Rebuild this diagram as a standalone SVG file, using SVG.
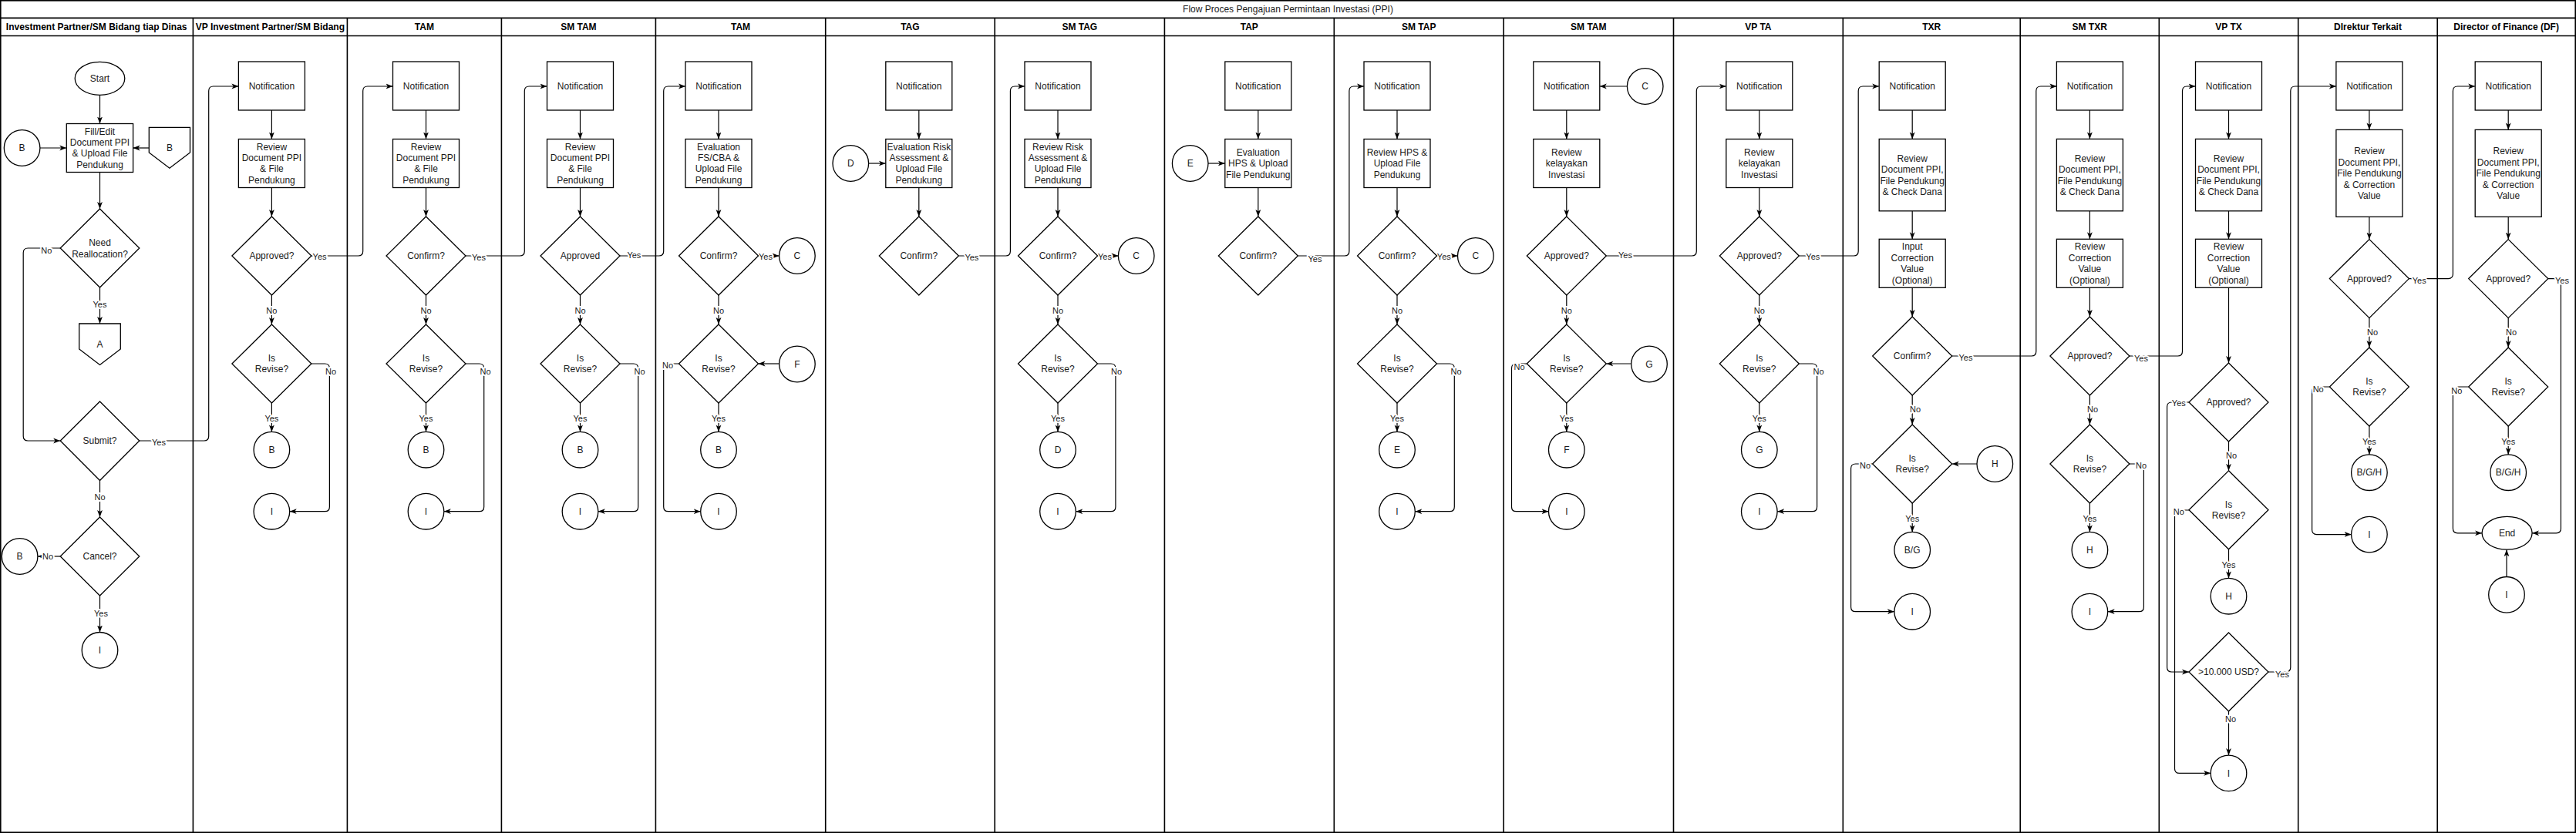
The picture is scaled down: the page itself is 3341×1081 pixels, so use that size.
<svg xmlns="http://www.w3.org/2000/svg" width="3341" height="1081" viewBox="0 0 3341 1081">
<defs>
<style>
.lane{fill:none;stroke:#000;stroke-width:1.6}
.s{fill:#fff;stroke:#000;stroke-width:1.3}
.t{font-family:"Liberation Sans",Arial,Helvetica,sans-serif;font-size:12px;fill:#1a1a1a;text-anchor:middle}
.h{font-weight:bold;fill:#000}
.e{fill:none;stroke:#000;stroke-width:1.2;marker-end:url(#arr)}
.el{font-size:11px;stroke:#fff;stroke-width:4px;paint-order:stroke;stroke-linejoin:round}
</style>
<marker id="arr" viewBox="0 0 10 10" refX="10" refY="5" markerWidth="9" markerHeight="9" markerUnits="userSpaceOnUse" orient="auto">
<path d="M0,1.2 L10,5 L0,8.8 L2.6,5 z" fill="#000"/>
</marker>
</defs>
<rect width="3341" height="1081" fill="#fff"/>
<g id="pool">
<rect class="lane" x="0.8" y="0.8" width="3339.4" height="1079.4"/>
<path class="lane" d="M0 23.4 H3341 M0 46.5 H3341 M250.4 23.4 V1081 M450.4 23.4 V1081 M650.4 23.4 V1081 M850.4 23.4 V1081 M1070.7 23.4 V1081 M1290.2 23.4 V1081 M1510.4 23.4 V1081 M1730.3 23.4 V1081 M1950.2 23.4 V1081 M2170.5 23.4 V1081 M2390.3 23.4 V1081 M2620.2 23.4 V1081 M2800.3 23.4 V1081 M2980.7 23.4 V1081 M3161.2 23.4 V1081"/>
<text class="t" x="1670.5" y="15.9">Flow Proces Pengajuan Permintaan Investasi (PPI)</text>
<text class="t h" x="125.2" y="39.2">Investment Partner/SM Bidang tiap Dinas</text>
<text class="t h" x="350.4" y="39.2">VP Investment Partner/SM Bidang</text>
<text class="t h" x="550.4" y="39.2">TAM</text>
<text class="t h" x="750.4" y="39.2">SM TAM</text>
<text class="t h" x="960.5" y="39.2">TAM</text>
<text class="t h" x="1180.4" y="39.2">TAG</text>
<text class="t h" x="1400.3" y="39.2">SM TAG</text>
<text class="t h" x="1620.3" y="39.2">TAP</text>
<text class="t h" x="1840.2" y="39.2">SM TAP</text>
<text class="t h" x="2060.3" y="39.2">SM TAM</text>
<text class="t h" x="2280.4" y="39.2">VP TA</text>
<text class="t h" x="2505.2" y="39.2">TXR</text>
<text class="t h" x="2710.2" y="39.2">SM TXR</text>
<text class="t h" x="2890.5" y="39.2">VP TX</text>
<text class="t h" x="3071" y="39.2">DIrektur Terkait</text>
<text class="t h" x="3250.6" y="39.2">Director of Finance (DF)</text>
</g>

<g id="connectors">
<!-- lane 0 -->
<path class="e" d="M129.5 123.3 V160.5"/>
<path class="e" d="M51.9 192 H86.3"/>
<path class="e" d="M193.3 192 H172.6"/>
<path class="e" d="M129.5 223.5 V271"/>
<path class="e" d="M129.5 373 V420"/>
<text class="t el" x="129.5" y="399">Yes</text>
<path class="e" d="M78.2 322 H36.2 Q30.2 322 30.2 328 V566 Q30.2 572 36.2 572 H78.2"/>
<text class="t el" x="60.4" y="329">No</text>
<path class="e" d="M180.8 572 H264.7 Q270.7 572 270.7 566 V118 Q270.7 112 276.7 112 H309.4"/>
<text class="t el" x="206" y="578">Yes</text>
<path class="e" d="M129.5 623.5 V671"/>
<text class="t el" x="129.5" y="649">No</text>
<path class="e" d="M78.2 722 H48.9"/>
<text class="t el" x="62" y="726">No</text>
<path class="e" d="M129.5 773 V820.5"/>
<text class="t el" x="131" y="800">Yes</text>
<!-- lane 1 -->
<path class="e" d="M352.4 143 V180.5"/><path class="e" d="M352.4 243.5 V281"/>
<path class="e" d="M352.4 383 V421"/><text class="t el" x="352.4" y="407">No</text>
<path class="e" d="M352.4 523 V560.4"/><text class="t el" x="352.4" y="547.4">Yes</text>
<path class="e" d="M403.9 332 H464.7 Q470.7 332 470.7 326 V118 Q470.7 112 476.7 112 H509.5"/><text class="t el" x="414.6" y="337">Yes</text>
<path class="e" d="M403.9 472 H421.4 Q427.4 472 427.4 478 V657.7 Q427.4 663.7 421.4 663.7 H375.7"/><text class="t el" x="429" y="486">No</text>
<!-- lane 2 -->
<path class="e" d="M552.5 143 V180.5"/><path class="e" d="M552.5 243.5 V281"/>
<path class="e" d="M552.5 383 V421"/><text class="t el" x="552.5" y="407">No</text>
<path class="e" d="M552.5 523 V560.4"/><text class="t el" x="552.5" y="547.4">Yes</text>
<path class="e" d="M604 332 H674.3 Q680.3 332 680.3 326 V118 Q680.3 112 686.3 112 H709.5"/><text class="t el" x="621" y="338">Yes</text>
<path class="e" d="M604 472 H621.7 Q627.7 472 627.7 478 V657.7 Q627.7 663.7 621.7 663.7 H575.8"/><text class="t el" x="629.5" y="486">No</text>
<!-- lane 3 -->
<path class="e" d="M752.5 143 V180.5"/><path class="e" d="M752.5 243.5 V281"/>
<path class="e" d="M752.5 383 V421"/><text class="t el" x="752.5" y="407">No</text>
<path class="e" d="M752.5 523 V560.4"/><text class="t el" x="752.5" y="547.4">Yes</text>
<path class="e" d="M804 332 H854.7 Q860.7 332 860.7 326 V118 Q860.7 112 866.7 112 H889"/><text class="t el" x="822.4" y="335">Yes</text>
<path class="e" d="M804 472 H821.7 Q827.7 472 827.7 478 V657.7 Q827.7 663.7 821.7 663.7 H775.8"/><text class="t el" x="829.5" y="486">No</text>
<!-- lane 4 -->
<path class="e" d="M932 143 V180.5"/><path class="e" d="M932 243.5 V281"/>
<path class="e" d="M932 383 V421"/><text class="t el" x="932" y="407">No</text>
<path class="e" d="M932 523 V560.4"/><text class="t el" x="932" y="547.4">Yes</text>
<path class="e" d="M983.5 332 H1010.6"/><text class="t el" x="993" y="337">Yes</text>
<path class="e" d="M1010.6 472 H983.5"/>
<path class="e" d="M880.5 472 H866.7 Q860.7 472 860.7 478 V657.7 Q860.7 663.7 866.7 663.7 H908.7"/><text class="t el" x="866" y="478">No</text>
<!-- lane 5 -->
<path class="e" d="M1191.8 143 V180.5"/><path class="e" d="M1191.8 243.5 V281"/>
<path class="e" d="M1126.6 212 H1148.8"/>
<path class="e" d="M1243.3 332 H1304.4 Q1310.4 332 1310.4 326 V118 Q1310.4 112 1316.4 112 H1329"/><text class="t el" x="1260.4" y="338">Yes</text>
<!-- lane 6 -->
<path class="e" d="M1372 143 V180.5"/><path class="e" d="M1372 243.5 V281"/>
<path class="e" d="M1372 383 V421"/><text class="t el" x="1372" y="407">No</text>
<path class="e" d="M1372 523 V560.4"/><text class="t el" x="1372" y="547.4">Yes</text>
<path class="e" d="M1423.5 332 H1450.4"/><text class="t el" x="1433" y="337">Yes</text>
<path class="e" d="M1423.5 472 H1440.9 Q1446.9 472 1446.9 478 V657.7 Q1446.9 663.7 1440.9 663.7 H1395.3"/><text class="t el" x="1448" y="486">No</text>
<!-- lane 7 -->
<path class="e" d="M1631.8 143 V180.5"/><path class="e" d="M1631.8 243.5 V281"/>
<path class="e" d="M1567 212 H1588.8"/>
<path class="e" d="M1683.3 332 H1743.9 Q1749.9 332 1749.9 326 V118 Q1749.9 112 1755.9 112 H1769"/><text class="t el" x="1705.5" y="340">Yes</text>
<!-- lane 8 -->
<path class="e" d="M1812 143 V180.5"/><path class="e" d="M1812 243.5 V281"/>
<path class="e" d="M1812 383 V421"/><text class="t el" x="1812" y="407">No</text>
<path class="e" d="M1812 523 V560.4"/><text class="t el" x="1812" y="547.4">Yes</text>
<path class="e" d="M1863.5 332 H1890.5"/><text class="t el" x="1872.8" y="337">Yes</text>
<path class="e" d="M1863.5 472 H1880.3 Q1886.3 472 1886.3 478 V657.7 Q1886.3 663.7 1880.3 663.7 H1835.3"/><text class="t el" x="1888.5" y="486">No</text>
<!-- lane 9 -->
<path class="e" d="M2031.8 143 V180.5"/><path class="e" d="M2031.8 243.5 V281"/>
<path class="e" d="M2110.4 112 H2074.8"/>
<path class="e" d="M2031.8 383 V421"/><text class="t el" x="2031.8" y="407">No</text>
<path class="e" d="M2031.8 523 V560.4"/><text class="t el" x="2031.8" y="547.4">Yes</text>
<path class="e" d="M2083.3 332 H2194.3 Q2200.3 332 2200.3 326 V118 Q2200.3 112 2206.3 112 H2238.8"/><text class="t el" x="2108" y="335">Yes</text>
<path class="e" d="M2115.7 472 H2083.3"/>
<path class="e" d="M1980.3 472 H1966.5 Q1960.5 472 1960.5 478 V657.7 Q1960.5 663.7 1966.5 663.7 H2008.5"/><text class="t el" x="1970.5" y="480">No</text>
<!-- lane 10 -->
<path class="e" d="M2281.8 143 V180.5"/><path class="e" d="M2281.8 243.5 V281"/>
<path class="e" d="M2281.8 383 V421"/><text class="t el" x="2281.8" y="407">No</text>
<path class="e" d="M2281.8 523 V560.4"/><text class="t el" x="2281.8" y="547.4">Yes</text>
<path class="e" d="M2333.3 332 H2404.2 Q2410.2 332 2410.2 326 V118 Q2410.2 112 2416.2 112 H2437.2"/><text class="t el" x="2351.3" y="337">Yes</text>
<path class="e" d="M2333.3 472 H2350.6 Q2356.6 472 2356.6 478 V657.7 Q2356.6 663.7 2350.6 663.7 H2305.1"/><text class="t el" x="2358.5" y="486">No</text>
<!-- lane 11 -->
<path class="e" d="M2480.2 143 V180.4"/><path class="e" d="M2480.2 273.8 V310.3"/><path class="e" d="M2480.2 373.3 V411"/>
<path class="e" d="M2531.7 462 H2634.8 Q2640.8 462 2640.8 456 V118 Q2640.8 112 2646.8 112 H2667.4"/><text class="t el" x="2549.5" y="468">Yes</text>
<path class="e" d="M2480.2 513 V551"/><text class="t el" x="2484" y="535">No</text>
<path class="e" d="M2564 602 H2531.7"/>
<path class="e" d="M2480.2 653 V690.4"/><text class="t el" x="2480.2" y="676.7">Yes</text>
<path class="e" d="M2428.7 602 H2406.6 Q2400.6 602 2400.6 608 V787.7 Q2400.6 793.7 2406.6 793.7 H2456.9"/><text class="t el" x="2419" y="608">No</text>
<!-- lane 12 -->
<path class="e" d="M2710.4 143 V180.4"/><path class="e" d="M2710.4 273.8 V310.3"/><path class="e" d="M2710.4 373.3 V411"/>
<path class="e" d="M2761.9 462 H2824.5 Q2830.5 462 2830.5 456 V118 Q2830.5 112 2836.5 112 H2847.5"/><text class="t el" x="2777" y="469">Yes</text>
<path class="e" d="M2710.4 513 V551"/><text class="t el" x="2714" y="535">No</text>
<path class="e" d="M2710.4 653 V690.4"/><text class="t el" x="2710.4" y="676.7">Yes</text>
<path class="e" d="M2761.9 602 H2774.4 Q2780.4 602 2780.4 608 V787.7 Q2780.4 793.7 2774.4 793.7 H2733.7"/><text class="t el" x="2777" y="608">No</text>
<!-- lane 13 -->
<path class="e" d="M2890.5 143 V180.4"/><path class="e" d="M2890.5 273.8 V310.3"/><path class="e" d="M2890.5 373.3 V471"/>
<path class="e" d="M2839 522 H2816.6 Q2810.6 522 2810.6 528 V866 Q2810.6 872 2816.6 872 H2839"/><text class="t el" x="2825.8" y="527">Yes</text>
<path class="e" d="M2890.5 573 V610.8"/><text class="t el" x="2894" y="595">No</text>
<path class="e" d="M2890.5 712.8 V750.4"/><text class="t el" x="2890.5" y="737">Yes</text>
<path class="e" d="M2839 662 H2826.5 Q2820.5 662 2820.5 668 V997.4 Q2820.5 1003.4 2826.5 1003.4 H2867.2"/><text class="t el" x="2825.8" y="668">No</text>
<path class="e" d="M2942 872 H2964.8 Q2970.8 872 2970.8 866 V118 Q2970.8 112 2976.8 112 H3029.9"/><text class="t el" x="2960" y="879">Yes</text>
<path class="e" d="M2890.5 923 V980.1"/><text class="t el" x="2893" y="937">No</text>
<!-- lane 14 -->
<path class="e" d="M3072.9 143 V168.4"/><path class="e" d="M3072.9 281.4 V310.6"/>
<path class="e" d="M3124.4 361.6 H3175.4 Q3181.4 361.6 3181.4 355.6 V118 Q3181.4 112 3187.4 112 H3210.2"/><text class="t el" x="3137.7" y="367.5">Yes</text>
<path class="e" d="M3072.9 412.6 V451"/><text class="t el" x="3077" y="434.7">No</text>
<path class="e" d="M3072.9 553 V589.9"/><text class="t el" x="3072.9" y="577">Yes</text>
<path class="e" d="M3021.4 502 H3004.6 Q2998.6 502 2998.6 508 V687.6 Q2998.6 693.6 3004.6 693.6 H3049.6"/><text class="t el" x="3006.7" y="509">No</text>
<!-- lane 15 -->
<path class="e" d="M3253.2 143 V168.4"/><path class="e" d="M3253.2 281.4 V310.6"/>
<path class="e" d="M3304.7 361.6 H3315.4 Q3321.4 361.6 3321.4 367.6 V685.8 Q3321.4 691.8 3315.4 691.8 H3284.1"/><text class="t el" x="3323" y="367.5">Yes</text>
<path class="e" d="M3253.2 412.6 V451"/><text class="t el" x="3257" y="434.7">No</text>
<path class="e" d="M3253.2 553 V589.9"/><text class="t el" x="3253.2" y="577">Yes</text>
<path class="e" d="M3201.7 502 H3187.4 Q3181.4 502 3181.4 508 V685.8 Q3181.4 691.8 3187.4 691.8 H3219.1"/><text class="t el" x="3186.4" y="511">No</text>
<path class="e" d="M3251 748.5 V713.2"/>
</g>

<!-- Lane 0 nodes -->
<g id="start"><ellipse class="s" cx="129.5" cy="101.8" rx="32.3" ry="21.5"/><text class="t" x="129.5" y="106">Start</text></g>
<g id="fill-edit"><rect class="s" x="86.3" y="160.5" width="86.3" height="63"/><text class="t"><tspan x="129.5" y="174.6">Fill/Edit</tspan><tspan x="129.5" y="189">Document PPI</tspan><tspan x="129.5" y="203.4">&amp; Upload File</tspan><tspan x="129.5" y="217.8">Pendukung</tspan></text></g>
<g id="b-in-0"><circle class="s" cx="28.6" cy="192" r="23.3"/><text class="t" x="28.6" y="196.2">B</text></g>
<g id="b-offpage"><path class="s" d="M193.3 165.3 H246.5 V198 L219.9 218.3 L193.3 198 Z"/><text class="t" x="219.9" y="196">B</text></g>
<g id="need-realloc"><polygon class="s" points="129.5,271 180.8,322 129.5,373 78.2,322"/><text class="t"><tspan x="129.5" y="318.6">Need</tspan><tspan x="129.5" y="333.7">Reallocation?</tspan></text></g>
<g id="a-offpage"><path class="s" d="M102.7 420 H156.3 V453 L129.5 473.5 L102.7 453 Z"/><text class="t" x="129.5" y="450.8">A</text></g>
<g id="submit"><polygon class="s" points="129.5,521 180.8,572 129.5,623.5 78.2,572"/><text class="t" x="129.5" y="576.2">Submit?</text></g>
<g id="cancel"><polygon class="s" points="129.5,671 180.8,722 129.5,773 78.2,722"/><text class="t" x="129.5" y="726.2">Cancel?</text></g>
<g id="b-out-0"><circle class="s" cx="25.6" cy="722" r="23.3"/><text class="t" x="25.6" y="726.2">B</text></g>
<g id="i-0"><circle class="s" cx="129.5" cy="843.8" r="23.3"/><text class="t" x="129.5" y="848">I</text></g>

<!-- Lane 1 -->
<g id="l1-notif"><rect class="s" x="309.4" y="80" width="86" height="63"/><text class="t" x="352.4" y="115.7">Notification</text></g>
<g id="l1-review"><rect class="s" x="309.4" y="180.5" width="86" height="63"/><text class="t"><tspan x="352.4" y="194.6">Review</tspan><tspan x="352.4" y="209">Document PPI</tspan><tspan x="352.4" y="223.4">&amp; File</tspan><tspan x="352.4" y="237.8">Pendukung</tspan></text></g>
<g id="l1-approved"><polygon class="s" points="352.4,281 403.9,332 352.4,383 300.9,332"/><text class="t" x="352.4" y="336.2">Approved?</text></g>
<g id="l1-revise"><polygon class="s" points="352.4,421 403.9,472 352.4,523 300.9,472"/><text class="t"><tspan x="352.4" y="469">Is</tspan><tspan x="352.4" y="483.4">Revise?</tspan></text></g>
<g id="l1-b"><circle class="s" cx="352.4" cy="583.7" r="23.3"/><text class="t" x="352.4" y="587.9">B</text></g>
<g id="l1-i"><circle class="s" cx="352.4" cy="663.7" r="23.3"/><text class="t" x="352.4" y="667.9">I</text></g>

<!-- Lane 2 -->
<g id="l2-notif"><rect class="s" x="509.5" y="80" width="86" height="63"/><text class="t" x="552.5" y="115.7">Notification</text></g>
<g id="l2-review"><rect class="s" x="509.5" y="180.5" width="86" height="63"/><text class="t"><tspan x="552.5" y="194.6">Review</tspan><tspan x="552.5" y="209">Document PPI</tspan><tspan x="552.5" y="223.4">&amp; File</tspan><tspan x="552.5" y="237.8">Pendukung</tspan></text></g>
<g id="l2-confirm"><polygon class="s" points="552.5,281 604,332 552.5,383 501,332"/><text class="t" x="552.5" y="336.2">Confirm?</text></g>
<g id="l2-revise"><polygon class="s" points="552.5,421 604,472 552.5,523 501,472"/><text class="t"><tspan x="552.5" y="469">Is</tspan><tspan x="552.5" y="483.4">Revise?</tspan></text></g>
<g id="l2-b"><circle class="s" cx="552.5" cy="583.7" r="23.3"/><text class="t" x="552.5" y="587.9">B</text></g>
<g id="l2-i"><circle class="s" cx="552.5" cy="663.7" r="23.3"/><text class="t" x="552.5" y="667.9">I</text></g>

<!-- Lane 3 -->
<g id="l3-notif"><rect class="s" x="709.5" y="80" width="86" height="63"/><text class="t" x="752.5" y="115.7">Notification</text></g>
<g id="l3-review"><rect class="s" x="709.5" y="180.5" width="86" height="63"/><text class="t"><tspan x="752.5" y="194.6">Review</tspan><tspan x="752.5" y="209">Document PPI</tspan><tspan x="752.5" y="223.4">&amp; File</tspan><tspan x="752.5" y="237.8">Pendukung</tspan></text></g>
<g id="l3-approved"><polygon class="s" points="752.5,281 804,332 752.5,383 701,332"/><text class="t" x="752.5" y="336.2">Approved</text></g>
<g id="l3-revise"><polygon class="s" points="752.5,421 804,472 752.5,523 701,472"/><text class="t"><tspan x="752.5" y="469">Is</tspan><tspan x="752.5" y="483.4">Revise?</tspan></text></g>
<g id="l3-b"><circle class="s" cx="752.5" cy="583.7" r="23.3"/><text class="t" x="752.5" y="587.9">B</text></g>
<g id="l3-i"><circle class="s" cx="752.5" cy="663.7" r="23.3"/><text class="t" x="752.5" y="667.9">I</text></g>

<!-- Lane 4 -->
<g id="l4-notif"><rect class="s" x="889" y="80" width="86" height="63"/><text class="t" x="932" y="115.7">Notification</text></g>
<g id="l4-eval"><rect class="s" x="889" y="180.5" width="86" height="63"/><text class="t"><tspan x="932" y="194.6">Evaluation</tspan><tspan x="932" y="209">FS/CBA &amp;</tspan><tspan x="932" y="223.4">Upload File</tspan><tspan x="932" y="237.8">Pendukung</tspan></text></g>
<g id="l4-confirm"><polygon class="s" points="932,281 983.5,332 932,383 880.5,332"/><text class="t" x="932" y="336.2">Confirm?</text></g>
<g id="l4-c"><circle class="s" cx="1033.9" cy="332" r="23.3"/><text class="t" x="1033.9" y="336.2">C</text></g>
<g id="l4-revise"><polygon class="s" points="932,421 983.5,472 932,523 880.5,472"/><text class="t"><tspan x="932" y="469">Is</tspan><tspan x="932" y="483.4">Revise?</tspan></text></g>
<g id="l4-f"><circle class="s" cx="1033.9" cy="472.5" r="23.3"/><text class="t" x="1033.9" y="476.7">F</text></g>
<g id="l4-b"><circle class="s" cx="932" cy="583.7" r="23.3"/><text class="t" x="932" y="587.9">B</text></g>
<g id="l4-i"><circle class="s" cx="932" cy="663.7" r="23.3"/><text class="t" x="932" y="667.9">I</text></g>

<!-- Lane 5 -->
<g id="l5-notif"><rect class="s" x="1148.8" y="80" width="86" height="63"/><text class="t" x="1191.8" y="115.7">Notification</text></g>
<g id="l5-d"><circle class="s" cx="1103.3" cy="212" r="23.3"/><text class="t" x="1103.3" y="216.2">D</text></g>
<g id="l5-eval"><rect class="s" x="1148.8" y="180.5" width="86" height="63"/><text class="t"><tspan x="1191.8" y="194.6">Evaluation Risk</tspan><tspan x="1191.8" y="209">Assessment &amp;</tspan><tspan x="1191.8" y="223.4">Upload File</tspan><tspan x="1191.8" y="237.8">Pendukung</tspan></text></g>
<g id="l5-confirm"><polygon class="s" points="1191.8,281 1243.3,332 1191.8,383 1140.3,332"/><text class="t" x="1191.8" y="336.2">Confirm?</text></g>

<!-- Lane 6 -->
<g id="l6-notif"><rect class="s" x="1329" y="80" width="86" height="63"/><text class="t" x="1372" y="115.7">Notification</text></g>
<g id="l6-review"><rect class="s" x="1329" y="180.5" width="86" height="63"/><text class="t"><tspan x="1372" y="194.6">Review Risk</tspan><tspan x="1372" y="209">Assessment &amp;</tspan><tspan x="1372" y="223.4">Upload File</tspan><tspan x="1372" y="237.8">Pendukung</tspan></text></g>
<g id="l6-confirm"><polygon class="s" points="1372,281 1423.5,332 1372,383 1320.5,332"/><text class="t" x="1372" y="336.2">Confirm?</text></g>
<g id="l6-c"><circle class="s" cx="1473.7" cy="332" r="23.3"/><text class="t" x="1473.7" y="336.2">C</text></g>
<g id="l6-revise"><polygon class="s" points="1372,421 1423.5,472 1372,523 1320.5,472"/><text class="t"><tspan x="1372" y="469">Is</tspan><tspan x="1372" y="483.4">Revise?</tspan></text></g>
<g id="l6-d"><circle class="s" cx="1372" cy="583.7" r="23.3"/><text class="t" x="1372" y="587.9">D</text></g>
<g id="l6-i"><circle class="s" cx="1372" cy="663.7" r="23.3"/><text class="t" x="1372" y="667.9">I</text></g>

<!-- Lane 7 -->
<g id="l7-notif"><rect class="s" x="1588.8" y="80" width="86" height="63"/><text class="t" x="1631.8" y="115.7">Notification</text></g>
<g id="l7-e"><circle class="s" cx="1543.7" cy="212" r="23.3"/><text class="t" x="1543.7" y="216.2">E</text></g>
<g id="l7-eval"><rect class="s" x="1588.8" y="180.5" width="86" height="63"/><text class="t"><tspan x="1631.8" y="201.8">Evaluation</tspan><tspan x="1631.8" y="216.2">HPS &amp; Upload</tspan><tspan x="1631.8" y="230.6">File Pendukung</tspan></text></g>
<g id="l7-confirm"><polygon class="s" points="1631.8,281 1683.3,332 1631.8,383 1580.3,332"/><text class="t" x="1631.8" y="336.2">Confirm?</text></g>

<!-- Lane 8 -->
<g id="l8-notif"><rect class="s" x="1769" y="80" width="86" height="63"/><text class="t" x="1812" y="115.7">Notification</text></g>
<g id="l8-review"><rect class="s" x="1769" y="180.5" width="86" height="63"/><text class="t"><tspan x="1812" y="201.8">Review HPS &amp;</tspan><tspan x="1812" y="216.2">Upload File</tspan><tspan x="1812" y="230.6">Pendukung</tspan></text></g>
<g id="l8-confirm"><polygon class="s" points="1812,281 1863.5,332 1812,383 1760.5,332"/><text class="t" x="1812" y="336.2">Confirm?</text></g>
<g id="l8-c"><circle class="s" cx="1913.8" cy="332" r="23.3"/><text class="t" x="1913.8" y="336.2">C</text></g>
<g id="l8-revise"><polygon class="s" points="1812,421 1863.5,472 1812,523 1760.5,472"/><text class="t"><tspan x="1812" y="469">Is</tspan><tspan x="1812" y="483.4">Revise?</tspan></text></g>
<g id="l8-e"><circle class="s" cx="1812" cy="583.7" r="23.3"/><text class="t" x="1812" y="587.9">E</text></g>
<g id="l8-i"><circle class="s" cx="1812" cy="663.7" r="23.3"/><text class="t" x="1812" y="667.9">I</text></g>

<!-- Lane 9 -->
<g id="l9-notif"><rect class="s" x="1988.8" y="80" width="86" height="63"/><text class="t" x="2031.8" y="115.7">Notification</text></g>
<g id="l9-c"><circle class="s" cx="2133.7" cy="112" r="23.3"/><text class="t" x="2133.7" y="116.2">C</text></g>
<g id="l9-review"><rect class="s" x="1988.8" y="180.5" width="86" height="63"/><text class="t"><tspan x="2031.8" y="201.8">Review</tspan><tspan x="2031.8" y="216.2">kelayakan</tspan><tspan x="2031.8" y="230.6">Investasi</tspan></text></g>
<g id="l9-approved"><polygon class="s" points="2031.8,281 2083.3,332 2031.8,383 1980.3,332"/><text class="t" x="2031.8" y="336.2">Approved?</text></g>
<g id="l9-revise"><polygon class="s" points="2031.8,421 2083.3,472 2031.8,523 1980.3,472"/><text class="t"><tspan x="2031.8" y="469">Is</tspan><tspan x="2031.8" y="483.4">Revise?</tspan></text></g>
<g id="l9-g"><circle class="s" cx="2139" cy="472.5" r="23.3"/><text class="t" x="2139" y="476.7">G</text></g>
<g id="l9-f"><circle class="s" cx="2031.8" cy="583.7" r="23.3"/><text class="t" x="2031.8" y="587.9">F</text></g>
<g id="l9-i"><circle class="s" cx="2031.8" cy="663.7" r="23.3"/><text class="t" x="2031.8" y="667.9">I</text></g>

<!-- Lane 10 -->
<g id="l10-notif"><rect class="s" x="2238.8" y="80" width="86" height="63"/><text class="t" x="2281.8" y="115.7">Notification</text></g>
<g id="l10-review"><rect class="s" x="2238.8" y="180.5" width="86" height="63"/><text class="t"><tspan x="2281.8" y="201.8">Review</tspan><tspan x="2281.8" y="216.2">kelayakan</tspan><tspan x="2281.8" y="230.6">Investasi</tspan></text></g>
<g id="l10-approved"><polygon class="s" points="2281.8,281 2333.3,332 2281.8,383 2230.3,332"/><text class="t" x="2281.8" y="336.2">Approved?</text></g>
<g id="l10-revise"><polygon class="s" points="2281.8,421 2333.3,472 2281.8,523 2230.3,472"/><text class="t"><tspan x="2281.8" y="469">Is</tspan><tspan x="2281.8" y="483.4">Revise?</tspan></text></g>
<g id="l10-g"><circle class="s" cx="2281.8" cy="583.7" r="23.3"/><text class="t" x="2281.8" y="587.9">G</text></g>
<g id="l10-i"><circle class="s" cx="2281.8" cy="663.7" r="23.3"/><text class="t" x="2281.8" y="667.9">I</text></g>

<!-- Lane 11 -->
<g id="l11-notif"><rect class="s" x="2437.2" y="80" width="86" height="63"/><text class="t" x="2480.2" y="115.7">Notification</text></g>
<g id="l11-review"><rect class="s" x="2437.2" y="180.4" width="86" height="93.4"/><text class="t"><tspan x="2480.2" y="209.7">Review</tspan><tspan x="2480.2" y="224.1">Document PPI,</tspan><tspan x="2480.2" y="238.5">File Pendukung</tspan><tspan x="2480.2" y="252.9">&amp; Check Dana</tspan></text></g>
<g id="l11-input"><rect class="s" x="2437.2" y="310.3" width="86" height="63"/><text class="t"><tspan x="2480.2" y="324.4">Input</tspan><tspan x="2480.2" y="338.8">Correction</tspan><tspan x="2480.2" y="353.2">Value</tspan><tspan x="2480.2" y="367.6">(Optional)</tspan></text></g>
<g id="l11-confirm"><polygon class="s" points="2480.2,411 2531.7,462 2480.2,513 2428.7,462"/><text class="t" x="2480.2" y="466.2">Confirm?</text></g>
<g id="l11-revise"><polygon class="s" points="2480.2,551 2531.7,602 2480.2,653 2428.7,602"/><text class="t"><tspan x="2480.2" y="599">Is</tspan><tspan x="2480.2" y="613.4">Revise?</tspan></text></g>
<g id="l11-h"><circle class="s" cx="2587.3" cy="602" r="23.3"/><text class="t" x="2587.3" y="606.2">H</text></g>
<g id="l11-bg"><circle class="s" cx="2480.2" cy="713.7" r="23.3"/><text class="t" x="2480.2" y="717.9">B/G</text></g>
<g id="l11-i"><circle class="s" cx="2480.2" cy="793.7" r="23.3"/><text class="t" x="2480.2" y="797.9">I</text></g>

<!-- Lane 12 -->
<g id="l12-notif"><rect class="s" x="2667.4" y="80" width="86" height="63"/><text class="t" x="2710.4" y="115.7">Notification</text></g>
<g id="l12-review"><rect class="s" x="2667.4" y="180.4" width="86" height="93.4"/><text class="t"><tspan x="2710.4" y="209.7">Review</tspan><tspan x="2710.4" y="224.1">Document PPI,</tspan><tspan x="2710.4" y="238.5">File Pendukung</tspan><tspan x="2710.4" y="252.9">&amp; Check Dana</tspan></text></g>
<g id="l12-correction"><rect class="s" x="2667.4" y="310.3" width="86" height="63"/><text class="t"><tspan x="2710.4" y="324.4">Review</tspan><tspan x="2710.4" y="338.8">Correction</tspan><tspan x="2710.4" y="353.2">Value</tspan><tspan x="2710.4" y="367.6">(Optional)</tspan></text></g>
<g id="l12-approved"><polygon class="s" points="2710.4,411 2761.9,462 2710.4,513 2658.9,462"/><text class="t" x="2710.4" y="466.2">Approved?</text></g>
<g id="l12-revise"><polygon class="s" points="2710.4,551 2761.9,602 2710.4,653 2658.9,602"/><text class="t"><tspan x="2710.4" y="599">Is</tspan><tspan x="2710.4" y="613.4">Revise?</tspan></text></g>
<g id="l12-h"><circle class="s" cx="2710.4" cy="713.7" r="23.3"/><text class="t" x="2710.4" y="717.9">H</text></g>
<g id="l12-i"><circle class="s" cx="2710.4" cy="793.7" r="23.3"/><text class="t" x="2710.4" y="797.9">I</text></g>

<!-- Lane 13 -->
<g id="l13-notif"><rect class="s" x="2847.5" y="80" width="86" height="63"/><text class="t" x="2890.5" y="115.7">Notification</text></g>
<g id="l13-review"><rect class="s" x="2847.5" y="180.4" width="86" height="93.4"/><text class="t"><tspan x="2890.5" y="209.7">Review</tspan><tspan x="2890.5" y="224.1">Document PPI,</tspan><tspan x="2890.5" y="238.5">File Pendukung</tspan><tspan x="2890.5" y="252.9">&amp; Check Dana</tspan></text></g>
<g id="l13-correction"><rect class="s" x="2847.5" y="310.3" width="86" height="63"/><text class="t"><tspan x="2890.5" y="324.4">Review</tspan><tspan x="2890.5" y="338.8">Correction</tspan><tspan x="2890.5" y="353.2">Value</tspan><tspan x="2890.5" y="367.6">(Optional)</tspan></text></g>
<g id="l13-approved"><polygon class="s" points="2890.5,471 2942,522 2890.5,573 2839,522"/><text class="t" x="2890.5" y="526.2">Approved?</text></g>
<g id="l13-revise"><polygon class="s" points="2890.5,610.8 2942,661.8 2890.5,712.8 2839,661.8"/><text class="t"><tspan x="2890.5" y="658.8">Is</tspan><tspan x="2890.5" y="673.2">Revise?</tspan></text></g>
<g id="l13-h"><circle class="s" cx="2890.5" cy="773.7" r="23.3"/><text class="t" x="2890.5" y="777.9">H</text></g>
<g id="l13-usd"><polygon class="s" points="2890.5,821 2942,872 2890.5,923 2839,872"/><text class="t" x="2890.5" y="876.2">&gt;10.000 USD?</text></g>
<g id="l13-i"><circle class="s" cx="2890.5" cy="1003.4" r="23.3"/><text class="t" x="2890.5" y="1007.6">I</text></g>

<!-- Lane 14 -->
<g id="l14-notif"><rect class="s" x="3029.9" y="80" width="86" height="63"/><text class="t" x="3072.9" y="115.7">Notification</text></g>
<g id="l14-review"><rect class="s" x="3029.9" y="168.4" width="86" height="113"/><text class="t"><tspan x="3072.9" y="200.3">Review</tspan><tspan x="3072.9" y="214.7">Document PPI,</tspan><tspan x="3072.9" y="229.1">File Pendukung</tspan><tspan x="3072.9" y="243.5">&amp; Correction</tspan><tspan x="3072.9" y="257.9">Value</tspan></text></g>
<g id="l14-approved"><polygon class="s" points="3072.9,310.6 3124.4,361.6 3072.9,412.6 3021.4,361.6"/><text class="t" x="3072.9" y="365.8">Approved?</text></g>
<g id="l14-revise"><polygon class="s" points="3072.9,451 3124.4,502 3072.9,553 3021.4,502"/><text class="t"><tspan x="3072.9" y="499">Is</tspan><tspan x="3072.9" y="513.4">Revise?</tspan></text></g>
<g id="l14-bgh"><circle class="s" cx="3072.9" cy="613.2" r="23.3"/><text class="t" x="3072.9" y="617.4">B/G/H</text></g>
<g id="l14-i"><circle class="s" cx="3072.9" cy="693.6" r="23.3"/><text class="t" x="3072.9" y="697.8">I</text></g>

<!-- Lane 15 -->
<g id="l15-notif"><rect class="s" x="3210.2" y="80" width="86" height="63"/><text class="t" x="3253.2" y="115.7">Notification</text></g>
<g id="l15-review"><rect class="s" x="3210.2" y="168.4" width="86" height="113"/><text class="t"><tspan x="3253.2" y="200.3">Review</tspan><tspan x="3253.2" y="214.7">Document PPI,</tspan><tspan x="3253.2" y="229.1">File Pendukung</tspan><tspan x="3253.2" y="243.5">&amp; Correction</tspan><tspan x="3253.2" y="257.9">Value</tspan></text></g>
<g id="l15-approved"><polygon class="s" points="3253.2,310.6 3304.7,361.6 3253.2,412.6 3201.7,361.6"/><text class="t" x="3253.2" y="365.8">Approved?</text></g>
<g id="l15-revise"><polygon class="s" points="3253.2,451 3304.7,502 3253.2,553 3201.7,502"/><text class="t"><tspan x="3253.2" y="499">Is</tspan><tspan x="3253.2" y="513.4">Revise?</tspan></text></g>
<g id="l15-bgh"><circle class="s" cx="3253.2" cy="613.2" r="23.3"/><text class="t" x="3253.2" y="617.4">B/G/H</text></g>
<g id="l15-end"><ellipse class="s" cx="3251.6" cy="691.8" rx="32.5" ry="21.4"/><text class="t" x="3251.6" y="696">End</text></g>
<g id="l15-i"><circle class="s" cx="3251" cy="771.8" r="23.3"/><text class="t" x="3251" y="776">I</text></g>
</svg>
